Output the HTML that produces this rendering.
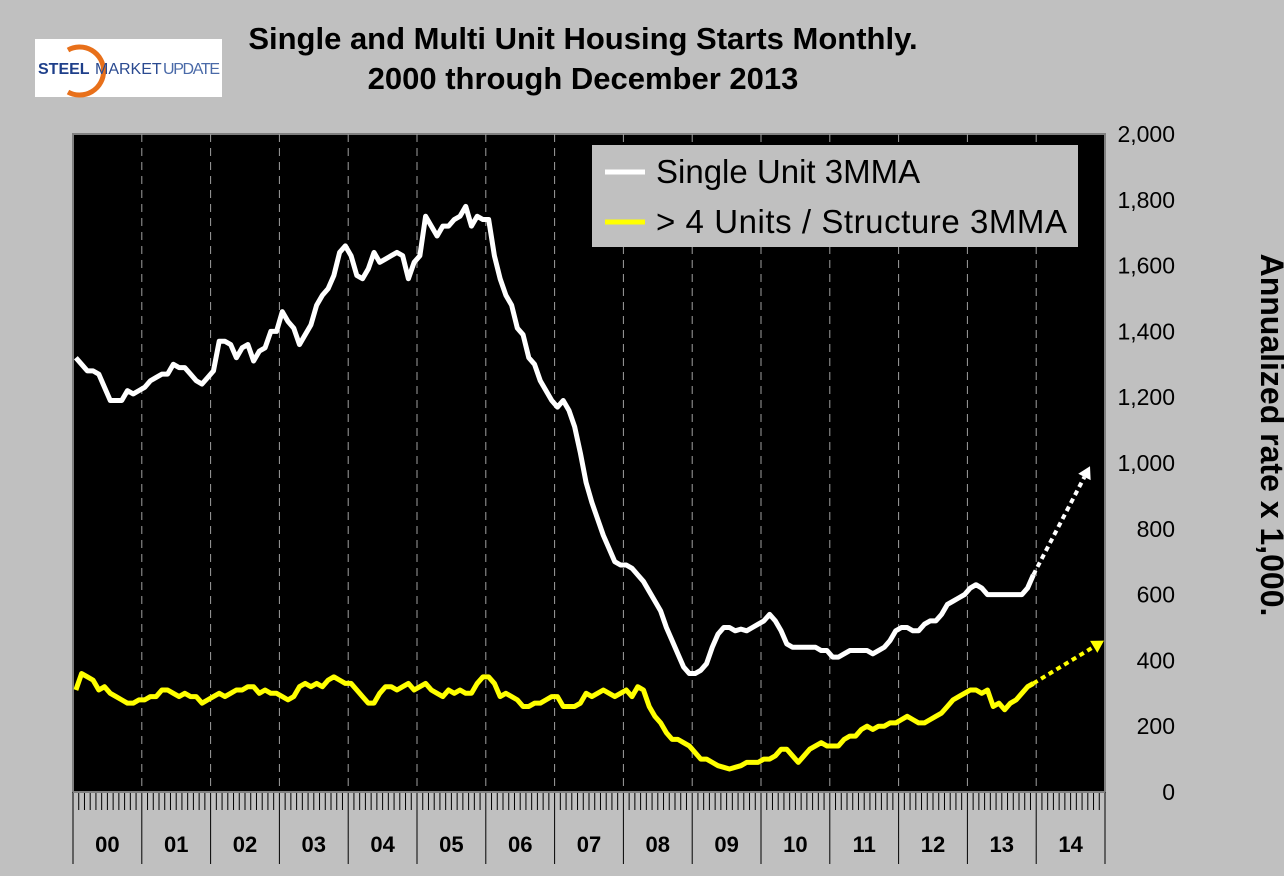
<!DOCTYPE html>
<html><head><meta charset="utf-8"><style>
body{margin:0;background:#c0c0c0;}
svg{display:block;font-family:"Liberation Sans",Arial,sans-serif;}
</style></head><body>
<svg id="c" width="1284" height="876" viewBox="0 0 1284 876">
<rect x="0" y="0" width="1284" height="876" fill="#c0c0c0"/>
<g>
<rect x="35" y="39" width="187" height="58" fill="#fff"/>
<path d="M68 50 A24 24 0 1 1 68 92" fill="none" stroke="#e8701a" stroke-width="5"/>
<text x="38" y="74" font-size="16" font-weight="bold" fill="#1e3f8a">STEEL</text>
<text x="95" y="74" font-size="16" fill="#2a4a90">MARKET</text>
<text x="163" y="74" font-size="16" fill="#4a6aa8" textLength="57">UPDATE</text>
</g>
<text x="583" y="49" text-anchor="middle" font-size="31" font-weight="bold">Single and Multi Unit Housing Starts Monthly.</text>
<text x="583" y="89" text-anchor="middle" font-size="31" font-weight="bold">2000 through December 2013</text>
<rect x="73" y="134" width="1032" height="658" fill="#000" stroke="#808080" stroke-width="2"/>
<g id="grid"></g>
<g id="axes"></g>
<g id="series"></g>
<g>
<rect x="592" y="145" width="486" height="102" fill="#c0c0c0"/>
<line x1="605" y1="172" x2="645" y2="172" stroke="#fff" stroke-width="5"/>
<text x="656" y="183" font-size="33" fill="#000">Single Unit 3MMA</text>
<line x1="605" y1="222" x2="645" y2="222" stroke="#ffff00" stroke-width="5"/>
<text x="656" y="233" font-size="33" fill="#000" textLength="411">&gt; 4 Units / Structure 3MMA</text>
</g>
<text transform="translate(1261,435) rotate(90)" text-anchor="middle" font-size="32" font-weight="bold">Annualized rate x 1,000.</text>
</svg>
<script>
const yearLabels=["00","01","02","03","04","05","06","07","08","09","10","11","12","13","14"];
const yTicks=[0,200,400,600,800,1000,1200,1400,1600,1800,2000];
const singleUnit=[
1320,1300,1280,1280,1270,1230,1190,1190,1190,1220,1210,1220,
1230,1250,1260,1270,1270,1300,1290,1290,1270,1250,1240,1260,
1280,1370,1370,1360,1320,1350,1360,1310,1340,1350,1400,1400,
1460,1430,1410,1360,1390,1420,1480,1510,1530,1570,1640,1660,
1630,1570,1560,1590,1640,1610,1620,1630,1640,1630,1560,1610,
1630,1750,1720,1690,1720,1720,1740,1750,1780,1720,1750,1740,
1740,1630,1560,1510,1480,1410,1390,1320,1300,1250,1220,1190,
1170,1190,1160,1110,1030,940,880,830,780,740,700,690,
690,680,660,640,610,580,550,500,460,420,380,360,
360,370,390,440,480,500,500,490,495,490,500,510,
520,540,520,490,450,440,440,440,440,440,430,430,
410,410,420,430,430,430,430,420,430,440,460,490,
500,500,490,490,510,520,520,540,570,580,590,600,
620,630,620,600,600,600,600,600,600,600,620,660];
const multiUnit=[
310,360,350,340,310,320,300,290,280,270,270,280,
280,290,290,310,310,300,290,300,290,290,270,280,
290,300,290,300,310,310,320,320,300,310,300,300,
290,280,290,320,330,320,330,320,340,350,340,330,
330,310,290,270,270,300,320,320,310,320,330,310,
320,330,310,300,290,310,300,310,300,300,330,350,
350,330,290,300,290,280,260,260,270,270,280,290,
290,260,260,260,270,300,290,300,310,300,290,300,
310,290,320,310,260,230,210,180,160,160,150,140,
120,100,100,90,80,75,70,75,80,90,90,90,
100,100,110,130,130,110,90,110,130,140,150,140,
140,140,160,170,170,190,200,190,200,200,210,210,
220,230,220,210,210,220,230,240,260,280,290,300,
310,310,300,310,260,270,250,270,280,300,320,330];
const singleProjection=[660,990];
const multiProjection=[330,460];

const NS="http://www.w3.org/2000/svg";
const X0=73,X1=1105,Y0=792,YT=134,YMAX=2000;
const yearW=(X1-X0)/yearLabels.length;
function xm(m){return X0+(m+0.5)*yearW/12;}
function yv(v){return Y0-v/YMAX*(Y0-YT);}
function mk(tag,attrs,parent){const e=document.createElementNS(NS,tag);for(const k in attrs)e.setAttribute(k,attrs[k]);parent.appendChild(e);return e;}
const grid=document.getElementById('grid'),axes=document.getElementById('axes'),ser=document.getElementById('series');
for(let i=1;i<yearLabels.length;i++){
  const x=X0+i*yearW;
  const l=mk('line',{x1:x,y1:YT,x2:x,y2:Y0,stroke:'#a0a0a0','stroke-width':1,'stroke-dasharray':'8,6'},grid);
  
  
}
for(let m=0;m<=yearLabels.length*12;m++){
  const x=X0+m*yearW/12;
  const big=m%12===0;
  const t=mk('line',{x1:x,y1:Y0,x2:x,y2:big?864:810,stroke:'#000','stroke-width':1},axes);
  
  
}
yearLabels.forEach((lab,i)=>{
  const t=mk('text',{x:X0+(i+0.5)*yearW,y:852,'text-anchor':'middle','font-size':22,'font-weight':'bold'},axes);
  t.textContent=lab;
  
  
});
mk('line',{x1:X0,y1:Y0,x2:X1,y2:Y0,stroke:'#808080','stroke-width':2},axes);
yTicks.forEach(v=>{
  const t=mk('text',{x:1175,y:yv(v)+8,'text-anchor':'end','font-size':23},axes);
  t.textContent=v.toLocaleString('en-US');
  
  
});
function line(data,color,name){
  const p=mk('polyline',{points:data.map((v,i)=>xm(i)+','+yv(v)).join(' '),fill:'none',stroke:color,'stroke-width':5,'stroke-linejoin':'round'},ser);
  
  
}
line(singleUnit,'#fff','single-unit-line');
line(multiUnit,'#ffff00','multi-unit-line');
function proj(d,color,name,xEnd){
  const x1=xm(singleUnit.length-1),y1=yv(d[0]),y2=yv(d[1]);
  const g=mk('g',{},ser);
  
  
  const ang=Math.atan2(y2-y1,xEnd-x1);
  const hx=xEnd-12*Math.cos(ang),hy=y2-12*Math.sin(ang);
  mk('line',{x1:x1,y1:y1,x2:hx,y2:hy,stroke:color,'stroke-width':4,'stroke-dasharray':'5,4'},g);
  const px=-Math.sin(ang)*7,py=Math.cos(ang)*7;
  mk('polygon',{points:`${xEnd},${y2} ${hx+px},${hy+py} ${hx-px},${hy-py}`,fill:color},g);
}
proj(singleProjection,'#fff','single-unit-projection-arrow',1090);
proj(multiProjection,'#ffff00','multi-unit-projection-arrow',1104);
</script>
</body></html>
